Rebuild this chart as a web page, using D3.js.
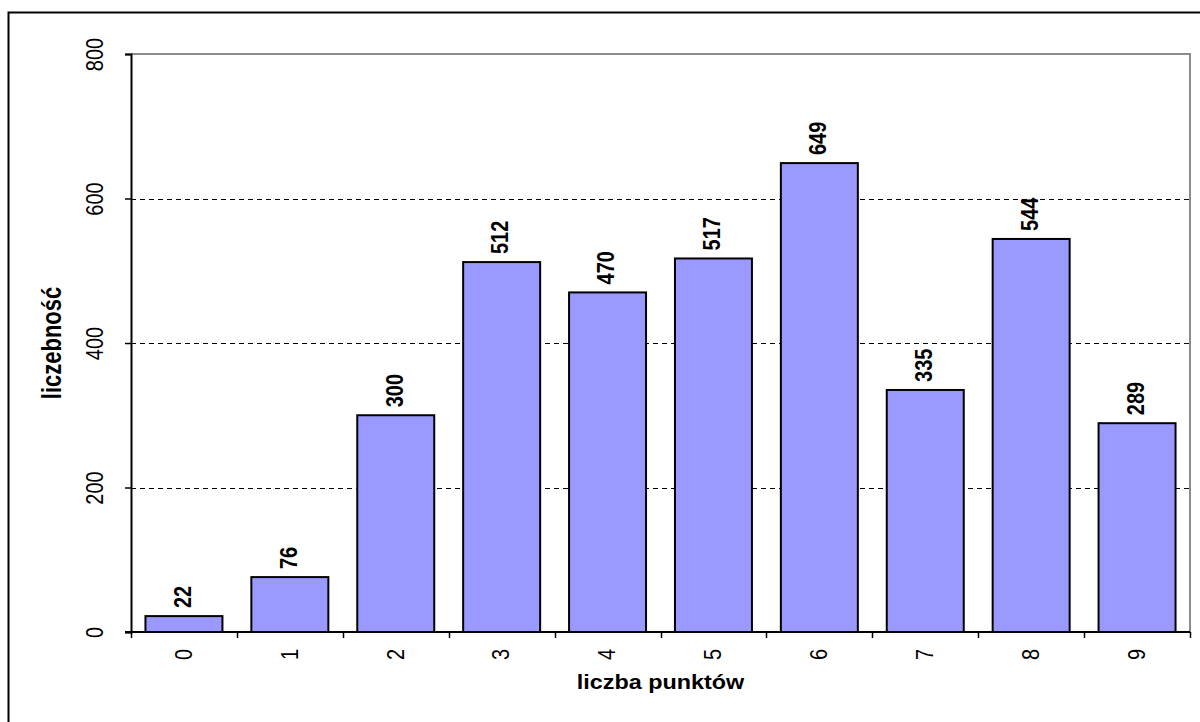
<!DOCTYPE html>
<html>
<head>
<meta charset="utf-8">
<script src="https://cdn.jsdelivr.net/npm/d3@7"></script>
<style>
  html, body { margin: 0; padding: 0; background: #fff; }
  svg { display: block; font-family: Arial, "Liberation Sans", sans-serif; }
</style>
</head>
<body>
<svg id="chart" width="1200" height="722"></svg>
<script>
// Number of points scored vs. how many people scored them
const categories = ["0", "1", "2", "3", "4", "5", "6", "7", "8", "9"];
const counts = [22, 76, 300, 512, 470, 517, 649, 335, 544, 289];
const yTicks = [0, 200, 400, 600, 800];
const gridValues = [200, 400, 600];
const xTitle = "liczba punktów";
const yTitle = "liczebność";

const svg = d3.select("#chart");
const plot = { left: 131, right: 1190, top: 54, bottom: 632 };
const stretch = 1.22;   // glyphs are drawn slightly wide
const stretchH = 1.17;

const x = d3.scaleBand()
  .domain(categories)
  .range([plot.left, plot.right])
  .paddingInner(0.273)
  .paddingOuter(0.1365);

const y = d3.scaleLinear()
  .domain([0, 800])
  .range([plot.bottom, plot.top]);

// outer chart border (top and left edges visible)
svg.append("path")
  .attr("d", `M8.5,722 L8.5,12.5 L1200,12.5`)
  .attr("fill", "none")
  .attr("stroke", "#000")
  .attr("stroke-width", 2);

// dashed gridlines
svg.append("g")
  .selectAll("line")
  .data(gridValues)
  .join("line")
  .attr("x1", plot.left)
  .attr("x2", plot.right)
  .attr("y1", d => Math.round(y(d)) + 0.5)
  .attr("y2", d => Math.round(y(d)) + 0.5)
  .attr("stroke", "#000")
  .attr("stroke-width", 1)
  .attr("stroke-dasharray", "5,4");

// plot frame: top and right in grey
svg.append("path")
  .attr("d", `M${plot.left},${plot.top} L${plot.right},${plot.top} L${plot.right},${plot.bottom}`)
  .attr("fill", "none")
  .attr("stroke", "#8c8c8c")
  .attr("stroke-width", 2);

// bars
svg.append("g")
  .selectAll("rect")
  .data(counts)
  .join("rect")
  .attr("x", (d, i) => x(categories[i]))
  .attr("y", d => y(d))
  .attr("width", x.bandwidth())
  .attr("height", d => y(0) - y(d))
  .attr("fill", "#9999ff")
  .attr("stroke", "#000")
  .attr("stroke-width", 2);

// value labels above bars
svg.append("g")
  .selectAll("text")
  .data(counts)
  .join("text")
  .attr("transform", (d, i) =>
    `translate(${x(categories[i]) + x.bandwidth() / 2 - 2},${y(d) - 8}) rotate(-90) scale(1,${stretch})`)
  .attr("dy", "0.36em")
  .attr("text-anchor", "start")
  .attr("font-size", 20)
  .attr("font-weight", "bold")
  .text(d => d);

// y axis
const yAxis = svg.append("g")
  .attr("transform", `translate(${plot.left},0)`)
  .call(d3.axisLeft(y).tickValues(yTicks).tickSize(6).tickFormat(d3.format("d")));
yAxis.select(".domain").attr("stroke", "#000").attr("stroke-width", 2);
yAxis.selectAll(".tick line").attr("stroke", "#000").attr("stroke-width", 1.5);
yAxis.selectAll(".tick text")
  .attr("x", null).attr("dy", null)
  .attr("transform", `translate(-37,0) rotate(-90) scale(1,${stretch})`)
  .attr("text-anchor", "middle")
  .attr("dy", "0.36em")
  .attr("font-size", 20)
  .attr("font-family", "Arial, 'Liberation Sans', sans-serif")
  .attr("fill", "#000");

// x axis: ticks at band boundaries
const xAxisG = svg.append("g");
xAxisG.append("line")
  .attr("x1", plot.left - 6).attr("x2", plot.right)
  .attr("y1", plot.bottom).attr("y2", plot.bottom)
  .attr("stroke", "#000").attr("stroke-width", 2);
const boundaries = categories.map(c => x(c) - x.step() * x.paddingInner() / 2)
  .concat([plot.right]);
xAxisG.selectAll("line.tk")
  .data(boundaries)
  .join("line")
  .attr("class", "tk")
  .attr("x1", d => Math.round(d) + 0.5).attr("x2", d => Math.round(d) + 0.5)
  .attr("y1", plot.bottom).attr("y2", plot.bottom + 6)
  .attr("stroke", "#000").attr("stroke-width", 1.5);
xAxisG.selectAll("text")
  .data(categories)
  .join("text")
  .attr("transform", d =>
    `translate(${x(d) + x.bandwidth() / 2 - 1},${plot.bottom + 17}) rotate(-90) scale(1,${stretch})`)
  .attr("text-anchor", "end")
  .attr("dy", "0.36em")
  .attr("font-size", 20)
  .text(d => d);

// axis titles
svg.append("text")
  .attr("transform", `translate(${(plot.left + plot.right) / 2},689) scale(${stretchH},1)`)
  .attr("text-anchor", "middle")
  .attr("font-size", 20)
  .attr("font-weight", "bold")
  .text(xTitle);

svg.append("text")
  .attr("transform", `translate(51,${(plot.top + plot.bottom) / 2}) rotate(-90) scale(1,${stretch})`)
  .attr("text-anchor", "middle")
  .attr("dy", "0.36em")
  .attr("font-size", 22)
  .attr("font-weight", "bold")
  .text(yTitle);
</script>
</body>
</html>
